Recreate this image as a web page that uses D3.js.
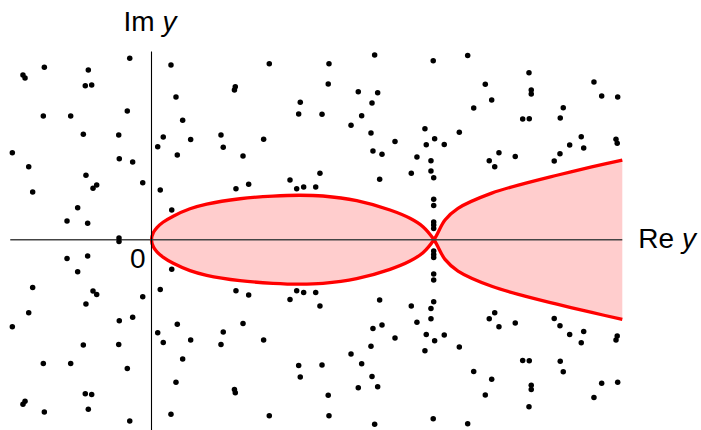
<!DOCTYPE html>
<html>
<head>
<meta charset="utf-8">
<script src="https://cdn.jsdelivr.net/npm/d3@7"></script>
<style>
  body { margin: 0; background: #fff; }
  svg { display: block; }
  text { font-family: "Liberation Sans", Arial, sans-serif; font-size: 28px; fill: #000; white-space: pre; }
</style>
</head>
<body>
<svg id="chart" width="701" height="430"></svg>
<script>
// Points in the upper half-plane (Re, Im); each is drawn together with its complex conjugate.
const pointRe = [-1.365, -1.343, -1.138, -0.671, -0.703, -0.635, -0.231, 0.207, 0.260, 0.890,
  0.881, -1.149, -0.858, -0.257, 0.331, -0.724, -0.348, 0.125, 0.416, 0.738,
  1.251, 1.885, 2.370, 2.992, 3.358, 1.877, 2.196, 2.402, 2.342, 1.580,
  1.563, 1.811, 2.232, 2.119, 2.331, 2.904, 3.007, 3.269, 1.191, 2.586,
  2.918, 3.109, 4.009, 3.545, 3.613, 3.422, 4.033, 4.033, 4.699, 4.781,
  4.951, 4.373, 4.341, 3.942, 4.012, 4.564, 4.441, 4.933, 4.946, -1.478,
  -1.304, -1.262, -0.696, -0.582, -0.621, -0.342, -0.200, -0.093, -0.784, -0.897,
  -0.678, -0.345, 0.066, 0.274, 0.762, 0.093, 0.215, 0.897, 0.972, 1.032,
  1.471, 1.542, 1.616, 1.744, 1.789, 2.352, 2.448, 2.423, 2.759, 2.819,
  2.968, 2.968, 2.997, 2.997, 2.997, 2.997, 2.997, 2.997, 3.587, 3.645,
  3.690, 3.863, 4.277, 4.338, 4.590];
const pointIm = [1.749, 1.717, 1.831, 1.802, 1.635, 1.643, 1.926, 1.855, 1.515, 1.625,
  1.590, 1.314, 1.314, 1.367, 1.268, 1.119, 1.112, 1.091, 1.064, 1.112,
  1.869, 1.869, 1.961, 1.901, 1.956, 1.653, 1.572, 1.561, 1.452, 1.459,
  1.335, 1.332, 1.317, 1.215, 1.133, 1.179, 1.073, 1.140, 1.066, 1.043,
  1.008, 1.011, 1.773, 1.650, 1.483, 1.399, 1.590, 1.547, 1.675, 1.526,
  1.515, 1.402, 1.292, 1.282, 1.285, 1.094, 1.006, 1.066, 1.024, 0.924,
  0.775, 0.507, 0.684, 0.581, 0.546, 0.860, 0.825, 0.605, 0.340, 0.199,
  0.174, 0.018, 0.988, 0.899, 0.981, 0.528, 0.315, 0.542, 0.889, 0.588,
  0.634, 0.542, 0.560, 0.560, 0.705, 0.942, 0.907, 0.641, 0.705, 0.878,
  0.839, 0.730, 0.658, 0.429, 0.363, 0.188, 0.156, 0.119, 0.839, 0.775,
  0.924, 0.884, 0.836, 0.913, 0.974];

// Upper half of the closed loop, from the origin to the node.
const loopRe = [0, 0.021, 0.058, 0.122, 0.231, 0.409, 0.586, 0.94, 1.29, 1.577, 1.821, 2.179, 2.533, 2.745, 2.883, 3];
const loopIm = [0, 0.078, 0.129, 0.185, 0.250, 0.328, 0.378, 0.435, 0.463, 0.472, 0.464, 0.414, 0.315, 0.227, 0.138, 0];

// Upper half of the open branch, from the node to the right edge.
const branchRe = [3, 3.117, 3.255, 3.613, 3.966, 4.317, 4.675, 5];
const branchIm = [0, 0.209, 0.333, 0.495, 0.599, 0.687, 0.773, 0.846];

// Axis extents and labels.
const reExtent = [-1.5, 5];
const imExtent = [-2.05, 2];
const originLabel = "0";
const reLabel = ["Re ", "y"];
const imLabel = ["Im ", "y"];

const svg = d3.select("#chart");

const x = d3.scaleLinear().domain([-1.5, 5]).range([10.25, 622.3]);
const y = d3.scaleLinear().domain([-2, 2]).range([428.0, 51.4]);

const zip = (re, im) => re.map((r, i) => [r, im[i]]);
const conj = pts => pts.map(([r, i]) => [r, -i]);

const line = d3.line()
  .x(d => x(d[0]))
  .y(d => y(d[1]))
  .curve(d3.curveCatmullRom.alpha(0.5));

const loopUpper = zip(loopRe, loopIm);
const loopLower = conj(loopUpper);
const branchUpper = zip(branchRe, branchIm);
const branchLower = conj(branchUpper);

// One continuous curve: in along the upper branch, through the node into the
// lower half of the loop, round the origin, back through the node, out along
// the lower branch.
const curvePts = branchUpper.slice().reverse()
  .concat(loopLower.slice().reverse().slice(1))
  .concat(loopUpper.slice(1))
  .concat(branchLower.slice(1));
const curveD = line(curvePts);

const fillColor = "#ffcdcd";
const curveColor = "#ff0000";

// Filled regions (closed at the right edge of the plot)
svg.append("path").attr("d", curveD + "Z")
  .attr("fill", fillColor).attr("fill-rule", "evenodd").attr("stroke", "none");

svg.append("path").attr("d", curveD)
  .attr("fill", "none").attr("stroke", curveColor)
  .attr("stroke-width", 3.3).attr("stroke-linejoin", "round");

// Axes
svg.append("line")
  .attr("x1", x(reExtent[0])).attr("x2", x(reExtent[1]))
  .attr("y1", y(0)).attr("y2", y(0))
  .attr("stroke", "#444").attr("stroke-width", 1.4);
svg.append("line")
  .attr("x1", Math.round(x(0)) + 0.5).attr("x2", Math.round(x(0)) + 0.5)
  .attr("y1", y(imExtent[1])).attr("y2", y(imExtent[0]))
  .attr("stroke", "#000").attr("stroke-width", 1.1);

// Points with their conjugates
const pts = zip(pointRe, pointIm);
const allPts = pts.concat(conj(pts));
svg.append("g").selectAll("circle").data(allPts).join("circle")
  .attr("cx", d => x(d[0])).attr("cy", d => y(d[1]))
  .attr("r", 2.75).attr("fill", "#000");

// Labels
const reText = svg.append("text").attr("x", x(reExtent[1]) + 16).attr("y", y(0) + 8);
reText.append("tspan").text(reLabel[0]);
reText.append("tspan").attr("font-style", "italic").text(reLabel[1]);

const imText = svg.append("text").attr("x", x(0) - 28).attr("y", 31);
imText.append("tspan").text(imLabel[0]);
imText.append("tspan").attr("font-style", "italic").text(imLabel[1]);

svg.append("text").attr("x", x(0) - 6).attr("y", y(0) + 28.5)
  .attr("text-anchor", "end").text(originLabel);
</script>
</body>
</html>
